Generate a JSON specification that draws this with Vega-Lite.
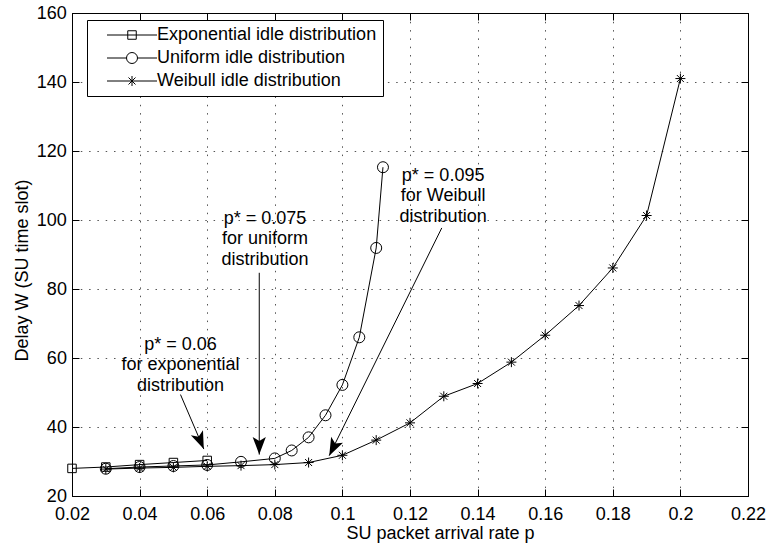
{
  "$schema": "https://vega.github.io/schema/vega-lite/v6.json",
  "width": 676,
  "height": 483,
  "autosize": {"type": "none"},
  "padding": {"left": 72, "top": 13, "right": 18, "bottom": 56},
  "background": "white",
  "config": {
    "view": {"stroke": "black", "strokeWidth": 1},
    "font": "Liberation Sans",
    "axis": {
      "labelFont": "Liberation Sans",
      "labelFontSize": 18,
      "labelColor": "black",
      "titleFont": "Liberation Sans",
      "titleFontSize": 18,
      "titleFontWeight": "normal",
      "titleColor": "black",
      "domainColor": "black",
      "domainWidth": 1,
      "tickColor": "black",
      "tickWidth": 1,
      "tickSize": -7,
      "gridColor": "#555555",
      "gridDash": [1.5, 6.8],
      "gridWidth": 1
    }
  },
  "datasets": {
    "series": [
      {"series": "Exponential idle distribution", "p": 0.02, "W": 28.0},
      {"series": "Exponential idle distribution", "p": 0.03, "W": 28.4},
      {"series": "Exponential idle distribution", "p": 0.04, "W": 29.1},
      {"series": "Exponential idle distribution", "p": 0.05, "W": 29.7},
      {"series": "Exponential idle distribution", "p": 0.06, "W": 30.3},
      {"series": "Uniform idle distribution", "p": 0.03, "W": 27.9},
      {"series": "Uniform idle distribution", "p": 0.04, "W": 28.4},
      {"series": "Uniform idle distribution", "p": 0.05, "W": 28.7},
      {"series": "Uniform idle distribution", "p": 0.06, "W": 29.0},
      {"series": "Uniform idle distribution", "p": 0.07, "W": 29.9},
      {"series": "Uniform idle distribution", "p": 0.08, "W": 30.9},
      {"series": "Uniform idle distribution", "p": 0.085, "W": 33.2},
      {"series": "Uniform idle distribution", "p": 0.09, "W": 37.0},
      {"series": "Uniform idle distribution", "p": 0.095, "W": 43.4},
      {"series": "Uniform idle distribution", "p": 0.1, "W": 52.2},
      {"series": "Uniform idle distribution", "p": 0.105, "W": 66.0},
      {"series": "Uniform idle distribution", "p": 0.11, "W": 91.9},
      {"series": "Uniform idle distribution", "p": 0.112, "W": 115.3},
      {"series": "Weibull idle distribution", "p": 0.03, "W": 27.8},
      {"series": "Weibull idle distribution", "p": 0.04, "W": 28.1},
      {"series": "Weibull idle distribution", "p": 0.05, "W": 28.3},
      {"series": "Weibull idle distribution", "p": 0.06, "W": 28.6},
      {"series": "Weibull idle distribution", "p": 0.07, "W": 28.8},
      {"series": "Weibull idle distribution", "p": 0.08, "W": 29.1},
      {"series": "Weibull idle distribution", "p": 0.09, "W": 29.7},
      {"series": "Weibull idle distribution", "p": 0.1, "W": 31.8},
      {"series": "Weibull idle distribution", "p": 0.11, "W": 36.2},
      {"series": "Weibull idle distribution", "p": 0.12, "W": 41.2},
      {"series": "Weibull idle distribution", "p": 0.13, "W": 48.9},
      {"series": "Weibull idle distribution", "p": 0.14, "W": 52.6},
      {"series": "Weibull idle distribution", "p": 0.15, "W": 58.8},
      {"series": "Weibull idle distribution", "p": 0.16, "W": 66.6},
      {"series": "Weibull idle distribution", "p": 0.17, "W": 75.2},
      {"series": "Weibull idle distribution", "p": 0.18, "W": 86.1},
      {"series": "Weibull idle distribution", "p": 0.19, "W": 101.3},
      {"series": "Weibull idle distribution", "p": 0.2, "W": 141.0}
    ],
    "arrows": [
      {"name": "a1", "x0": 0.0521, "y0": 49.4, "x1": 0.059, "y1": 33.6},
      {"name": "a2", "x0": 0.0754, "y0": 84.7, "x1": 0.0754, "y1": 32.0},
      {"name": "a3", "x0": 0.1294, "y0": 97.7, "x1": 0.0961, "y1": 31.7}
    ],
    "notes": [
      {"label": "p* = 0.06\nfor exponential\ndistribution", "p": 0.0521, "W": 62.4},
      {"label": "p* = 0.075\nfor uniform\ndistribution", "p": 0.0771, "W": 98.9},
      {"label": "p* = 0.095\nfor Weibull\ndistribution", "p": 0.1298, "W": 111.4}
    ]
  },
  "layer": [
    {
      "data": {"name": "series"},
      "mark": {"type": "line", "color": "black", "strokeWidth": 1},
      "encoding": {
        "x": {
          "field": "p", "type": "quantitative",
          "scale": {"domain": [0.02, 0.22], "nice": false, "zero": false},
          "axis": {
            "orient": "bottom",
            "values": [0.02, 0.04, 0.06, 0.08, 0.1, 0.12, 0.14, 0.16, 0.18, 0.2, 0.22],
            "format": ".2~f",
            "grid": true,
            "labelPadding": 16.5,
            "labelBaseline": "top",
            "labelFlush": false,
            "title": "SU packet arrival rate p",
            "titleX": 368,
            "titleY": 42,
            "titleAlign": "center",
            "titleBaseline": "alphabetic"
          }
        },
        "y": {
          "field": "W", "type": "quantitative",
          "scale": {"domain": [20, 160], "nice": false, "zero": false},
          "axis": {
            "orient": "left",
            "values": [20, 40, 60, 80, 100, 120, 140, 160],
            "grid": true,
            "labelPadding": 12.6,
            "labelFlush": false,
            "title": "Delay W (SU time slot)",
            "titleX": -45,
            "titleY": 257,
            "titleAngle": -90,
            "titleAlign": "center",
            "titleBaseline": "alphabetic"
          }
        },
        "detail": {"field": "series", "type": "nominal"}
      }
    },
    {
      "data": {"name": "series"},
      "mark": {"type": "point", "filled": false, "color": "black", "strokeWidth": 1, "size": 100, "opacity": 1},
      "encoding": {
        "x": {"field": "p", "type": "quantitative", "axis": null},
        "y": {"field": "W", "type": "quantitative", "axis": null},
        "shape": {
          "field": "series", "type": "nominal",
          "scale": {
            "domain": ["Exponential idle distribution", "Uniform idle distribution", "Weibull idle distribution"],
            "range": [
              "M-0.85,-0.85H0.85V0.85H-0.85Z",
              "M1.1,0A1.1,1.1,0,1,1,-1.1,0A1.1,1.1,0,1,1,1.1,0Z",
              "M-1,0H1M0,-1V1M-0.7,-0.7L0.7,0.7M-0.7,0.7L0.7,-0.7"
            ]
          },
          "legend": null
        }
      }
    },
    {
      "data": {"name": "series"},
      "mark": {"type": "point", "filled": false, "color": "black", "strokeWidth": 1, "size": 100, "opacity": 0},
      "encoding": {
        "x": {"field": "p", "type": "quantitative", "axis": null},
        "y": {"field": "W", "type": "quantitative", "axis": null},
        "shape": {
          "field": "series", "type": "nominal",
          "scale": {
            "domain": ["Exponential idle distribution", "Uniform idle distribution", "Weibull idle distribution"],
            "range": [
              "M-5,0H5M-0.85,-0.85H0.85V0.85H-0.85Z",
              "M-5,0H-1.1M1.1,0H5M1.1,0A1.1,1.1,0,1,1,-1.1,0A1.1,1.1,0,1,1,1.1,0Z",
              "M-5,0H5M0,-1V1M-0.7,-0.7L0.7,0.7M-0.7,0.7L0.7,-0.7"
            ]
          },
          "legend": {
            "orient": "none",
            "legendX": 15,
            "legendY": 7,
            "title": null,
            "padding": 6,
            "strokeColor": "black",
            "fillColor": "white",
            "cornerRadius": 0,
            "labelFont": "Liberation Sans",
            "labelFontSize": 18,
            "labelColor": "black",
            "labelLimit": 400,
            "symbolSize": 100,
            "symbolOpacity": 1,
            "symbolStrokeWidth": 1,
            "symbolStrokeColor": "black",
            "symbolFillColor": "transparent",
            "symbolOffset": 30,
            "labelOffset": 16,
            "rowPadding": 5
          }
        }
      }
    },
    {
      "data": {"name": "series"},
      "mark": {"type": "point", "opacity": 0},
      "encoding": {
        "x": {
          "field": "p", "type": "quantitative",
          "axis": {"orient": "top", "values": [0.02, 0.04, 0.06, 0.08, 0.1, 0.12, 0.14, 0.16, 0.18, 0.2, 0.22], "labels": false, "grid": false, "title": null}
        },
        "y": {
          "field": "W", "type": "quantitative",
          "axis": {"orient": "right", "values": [20, 40, 60, 80, 100, 120, 140, 160], "labels": false, "grid": false, "title": null}
        }
      }
    },
    {
      "data": {"name": "arrows"},
      "mark": {"type": "rule", "color": "black", "strokeWidth": 1},
      "encoding": {
        "x": {"field": "x0", "type": "quantitative", "axis": null},
        "y": {"field": "y0", "type": "quantitative", "axis": null},
        "x2": {"field": "x1"},
        "y2": {"field": "y1"}
      }
    },
    {
      "data": {"name": "arrows"},
      "transform": [{"filter": "datum.name == 'a1'"}],
      "mark": {"type": "point", "shape": "M0,0L-0.66,-1.77L0,-1.35L0.66,-1.77Z", "filled": true, "color": "black", "size": 400, "angle": -23, "opacity": 1},
      "encoding": {
        "x": {"field": "x1", "type": "quantitative", "axis": null},
        "y": {"field": "y1", "type": "quantitative", "axis": null}
      }
    },
    {
      "data": {"name": "arrows"},
      "transform": [{"filter": "datum.name == 'a2'"}],
      "mark": {"type": "point", "shape": "M0,0L-0.66,-1.77L0,-1.35L0.66,-1.77Z", "filled": true, "color": "black", "size": 400, "angle": 0, "opacity": 1},
      "encoding": {
        "x": {"field": "x1", "type": "quantitative", "axis": null},
        "y": {"field": "y1", "type": "quantitative", "axis": null}
      }
    },
    {
      "data": {"name": "arrows"},
      "transform": [{"filter": "datum.name == 'a3'"}],
      "mark": {"type": "point", "shape": "M0,0L-0.66,-1.77L0,-1.35L0.66,-1.77Z", "filled": true, "color": "black", "size": 400, "angle": 26.3, "opacity": 1},
      "encoding": {
        "x": {"field": "x1", "type": "quantitative", "axis": null},
        "y": {"field": "y1", "type": "quantitative", "axis": null}
      }
    },
    {
      "data": {"name": "notes"},
      "mark": {"type": "text", "align": "center", "baseline": "alphabetic", "font": "Liberation Sans", "fontSize": 18, "lineBreak": "\n", "lineHeight": 20.5, "color": "black"},
      "encoding": {
        "x": {"field": "p", "type": "quantitative", "axis": null},
        "y": {"field": "W", "type": "quantitative", "axis": null},
        "text": {"field": "label"}
      }
    }
  ],
  "resolve": {
    "axis": {"x": "independent", "y": "independent"},
    "scale": {"shape": "independent"},
    "legend": {"shape": "independent"}
  }
}
